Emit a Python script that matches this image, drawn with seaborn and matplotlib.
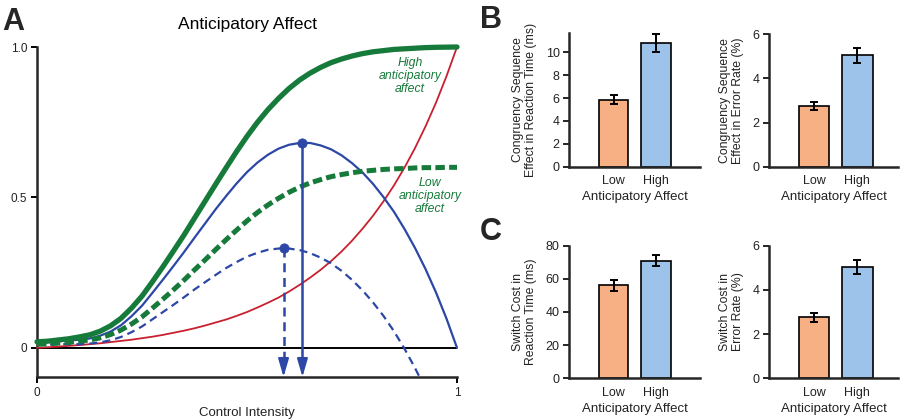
import numpy as np
import pandas as pd
import matplotlib
matplotlib.use("Agg")
import matplotlib.pyplot as plt
import seaborn as sns

# ---------------- data ----------------
control_x = [0.000, 0.025, 0.050, 0.075, 0.100, 0.125, 0.150, 0.175, 0.200, 0.225,
             0.250, 0.275, 0.300, 0.325, 0.350, 0.375, 0.400, 0.425, 0.450, 0.475,
             0.500, 0.525, 0.550, 0.575, 0.600, 0.625, 0.650, 0.675, 0.700, 0.725,
             0.750, 0.775, 0.800, 0.825, 0.850, 0.875, 0.900, 0.925, 0.950, 0.975, 1.000]
high_benefit = [0.020, 0.022, 0.026, 0.030, 0.036, 0.043, 0.055, 0.073, 0.098, 0.132,
                0.172, 0.220, 0.270, 0.322, 0.375, 0.431, 0.487, 0.543, 0.598, 0.652,
                0.703, 0.750, 0.792, 0.829, 0.862, 0.890, 0.913, 0.932, 0.948, 0.960,
                0.970, 0.978, 0.984, 0.988, 0.992, 0.994, 0.996, 0.998, 0.999, 0.9995, 1.000]
low_benefit = [0.012, 0.013, 0.016, 0.018, 0.022, 0.026, 0.033, 0.044, 0.059, 0.079,
               0.103, 0.132, 0.162, 0.193, 0.225, 0.259, 0.292, 0.326, 0.359, 0.391,
               0.422, 0.450, 0.475, 0.497, 0.517, 0.534, 0.548, 0.559, 0.569, 0.576,
               0.582, 0.587, 0.590, 0.593, 0.595, 0.596, 0.598, 0.599, 0.599, 0.600, 0.600]
control_cost = [0.000, 0.002, 0.004, 0.0065, 0.009, 0.012, 0.015, 0.019, 0.023, 0.027,
                0.032, 0.037, 0.043, 0.050, 0.057, 0.065, 0.074, 0.084, 0.094, 0.106,
                0.119, 0.134, 0.150, 0.167, 0.187, 0.209, 0.233, 0.259, 0.288, 0.320,
                0.356, 0.396, 0.439, 0.487, 0.540, 0.599, 0.664, 0.736, 0.815, 0.903, 1.000]
high_value = [0.020, 0.020, 0.022, 0.024, 0.027, 0.031, 0.040, 0.054, 0.075, 0.105,
              0.140, 0.183, 0.227, 0.272, 0.318, 0.366, 0.413, 0.460, 0.504, 0.546,
              0.584, 0.616, 0.642, 0.662, 0.675, 0.681, 0.681, 0.673, 0.660, 0.640,
              0.614, 0.583, 0.545, 0.501, 0.452, 0.395, 0.332, 0.262, 0.184, 0.097, 0.000]
low_value = [0.012, 0.011, 0.012, 0.012, 0.012, 0.014, 0.018, 0.025, 0.036, 0.052,
             0.071, 0.095, 0.119, 0.143, 0.168, 0.194, 0.218, 0.242, 0.265, 0.285,
             0.303, 0.316, 0.326, 0.330, 0.330, 0.325, 0.315, 0.300, 0.281, 0.256,
             0.226, 0.191, 0.151, 0.106, 0.055, -0.003, -0.067, -0.137, -0.216, -0.303, -0.400]
peak_x = [0.632, 0.587]   # high, low anticipatory affect optimum
peak_y = [0.682, 0.331]

groups = ["Low", "High"]
cse_rt = [5.85, 10.8]
cse_rt_err = [0.38, 0.79]
cse_er = [2.75, 5.05]
cse_er_err = [0.20, 0.33]
sc_rt = [56.1, 70.9]
sc_rt_err = [3.3, 3.2]
sc_er = [2.75, 5.03]
sc_er_err = [0.20, 0.33]

# ---------------- style ----------------
sns.set_theme(style="ticks")
plt.rcParams['font.family'] = ['Liberation Sans', 'DejaVu Sans']
plt.rcParams['axes.linewidth'] = 1.6

GREEN = "#167a3a"
BLUE = "#2c47a6"
RED = "#c8202f"
ORANGE = "#f6b083"
LBLUE = "#9dc3ea"
TXT = "#222222"

fig = plt.figure(figsize=(9.01, 4.2), dpi=100)

# ---------------- panel A ----------------
axA = fig.add_axes([37/901, 1-377/420, 420/901, 330/420])
ymin = -0.097
dfA = pd.DataFrame({"x": control_x, "high": high_benefit, "low": low_benefit,
                    "cost": control_cost, "hv": high_value, "lv": low_value})

sns.lineplot(data=dfA, x="x", y="cost", ax=axA, color=RED, lw=1.3, clip_on=False, zorder=3)
sns.lineplot(data=dfA, x="x", y="lv", ax=axA, color=BLUE, lw=1.6, zorder=3)
axA.lines[-1].set_linestyle((0, (3.6, 2.3)))
sns.lineplot(data=dfA, x="x", y="hv", ax=axA, color=BLUE, lw=1.6, clip_on=False, zorder=3)
sns.lineplot(data=dfA, x="x", y="low", ax=axA, color=GREEN, lw=3.6, clip_on=False, zorder=4)
axA.lines[-1].set_linestyle((0, (1.9, 0.85)))
sns.lineplot(data=dfA, x="x", y="high", ax=axA, color=GREEN, lw=3.8, clip_on=False, zorder=4,
             solid_capstyle="round")

axA.axhline(0, color="black", lw=1.4, zorder=2)

# vertical arrows from the optima
for px, py, ls in [(peak_x[0], peak_y[0], "-"), (peak_x[1], peak_y[1], (0, (3.6, 2.3)))]:
    axA.plot([px, px], [py, ymin + 0.03], color=BLUE, lw=1.8, linestyle=ls, zorder=5, clip_on=False)
    axA.annotate("", xy=(px, ymin), xytext=(px, ymin + 0.045),
                 arrowprops=dict(arrowstyle="-|>,head_length=0.55,head_width=0.16",
                                 color=BLUE, lw=1.5, mutation_scale=20,
                                 shrinkA=0, shrinkB=0),
                 zorder=6, annotation_clip=False)
sns.scatterplot(x=peak_x, y=peak_y, ax=axA, color=BLUE, s=45, edgecolor=BLUE, zorder=7,
                clip_on=False, legend=False)

axA.set_xlim(0, 1)
axA.set_ylim(ymin, 1.0)
axA.set_yticks([0, 0.5, 1.0])
axA.set_yticklabels(["0", "0.5", "1.0"])
axA.set_xticks([0, 1])
axA.set_xticklabels(["0", "1"])
axA.tick_params(axis="both", length=4, width=1.4, labelsize=8.5, colors="black",
                labelcolor=TXT, pad=3)
axA.set_xlabel("Control Intensity", fontsize=9.5, color=TXT, labelpad=6)
axA.set_ylabel("")
sns.despine(ax=axA)
axA.spines["left"].set_linewidth(1.8)
axA.spines["bottom"].set_linewidth(1.8)

axA.text(0.888, 0.904, "High\nanticipatory\naffect", color=GREEN, fontsize=8.8,
         style="italic", ha="center", va="center", linespacing=1.15)
axA.text(0.936, 0.505, "Low\nanticipatory\naffect", color=GREEN, fontsize=8.8,
         style="italic", ha="center", va="center", linespacing=1.15)

fig.text(247/901, 1-25/420, "Anticipatory Affect", fontsize=12.5, ha="center", va="center",
         color="black")

# ---------------- bar panels ----------------
def bar_panel(rect, vals, errs, ylim, yticks, ylabel, xlim):
    ax = fig.add_axes(rect)
    df = pd.DataFrame({"group": groups, "value": vals})
    sns.barplot(data=df, x="group", y="value", hue="group", palette=[ORANGE, LBLUE],
                edgecolor="black", linewidth=1.2, width=0.7, ax=ax, legend=False,
                errorbar=None, saturation=1)
    ax.errorbar(x=[0, 1], y=vals, yerr=errs, fmt="none", ecolor="black",
                elinewidth=1.4, capsize=2.6, capthick=1.4, zorder=5)
    ax.set_xlim(*xlim)
    ax.set_ylim(*ylim)
    ax.set_yticks(yticks)
    ax.tick_params(axis="y", length=4, width=1.4, labelsize=9, labelcolor=TXT, pad=3)
    ax.tick_params(axis="x", length=0, labelsize=9, labelcolor=TXT, pad=6)
    ax.set_xlabel("Anticipatory Affect", fontsize=9.5, color=TXT, labelpad=3)
    ax.set_ylabel(ylabel, fontsize=8.8, color=TXT, labelpad=6, linespacing=1.1)
    sns.despine(ax=ax)
    ax.spines["left"].set_linewidth(1.8)
    ax.spines["bottom"].set_linewidth(1.8)
    return ax

bar_panel([569.3/901, 1-166.7/420, 130.7/901, 133.4/420], cse_rt, cse_rt_err,
          (0, 11.66), [0, 2, 4, 6, 8, 10],
          "Congruency Sequence\nEffect in Reaction Time (ms)", (-1.04, 2.03))
bar_panel([769.3/901, 1-166.7/420, 128.7/901, 132.4/420], cse_er, cse_er_err,
          (0, 6), [0, 2, 4, 6],
          "Congruency Sequence\nEffect in Error Rate (%)", (-1.04, 1.94))
bar_panel([569.3/901, 1-378.3/420, 130.7/901, 132.8/420], sc_rt, sc_rt_err,
          (0, 80), [0, 20, 40, 60, 80],
          "Switch Cost in\nReaction Time (ms)", (-1.04, 2.03))
bar_panel([769.3/901, 1-378.3/420, 128.7/901, 132.8/420], sc_er, sc_er_err,
          (0, 6), [0, 2, 4, 6],
          "Switch Cost in\nError Rate (%)", (-1.04, 1.94))

# panel letters
fig.text(2/901, 1-30/420, "A", fontsize=22, fontweight="bold", ha="left", va="baseline")
fig.text(480/901, 1-28/420, "B", fontsize=22, fontweight="bold", ha="left", va="baseline")
fig.text(480/901, 1-240/420, "C", fontsize=22, fontweight="bold", ha="left", va="baseline")

fig.savefig("out.png", dpi=100)
